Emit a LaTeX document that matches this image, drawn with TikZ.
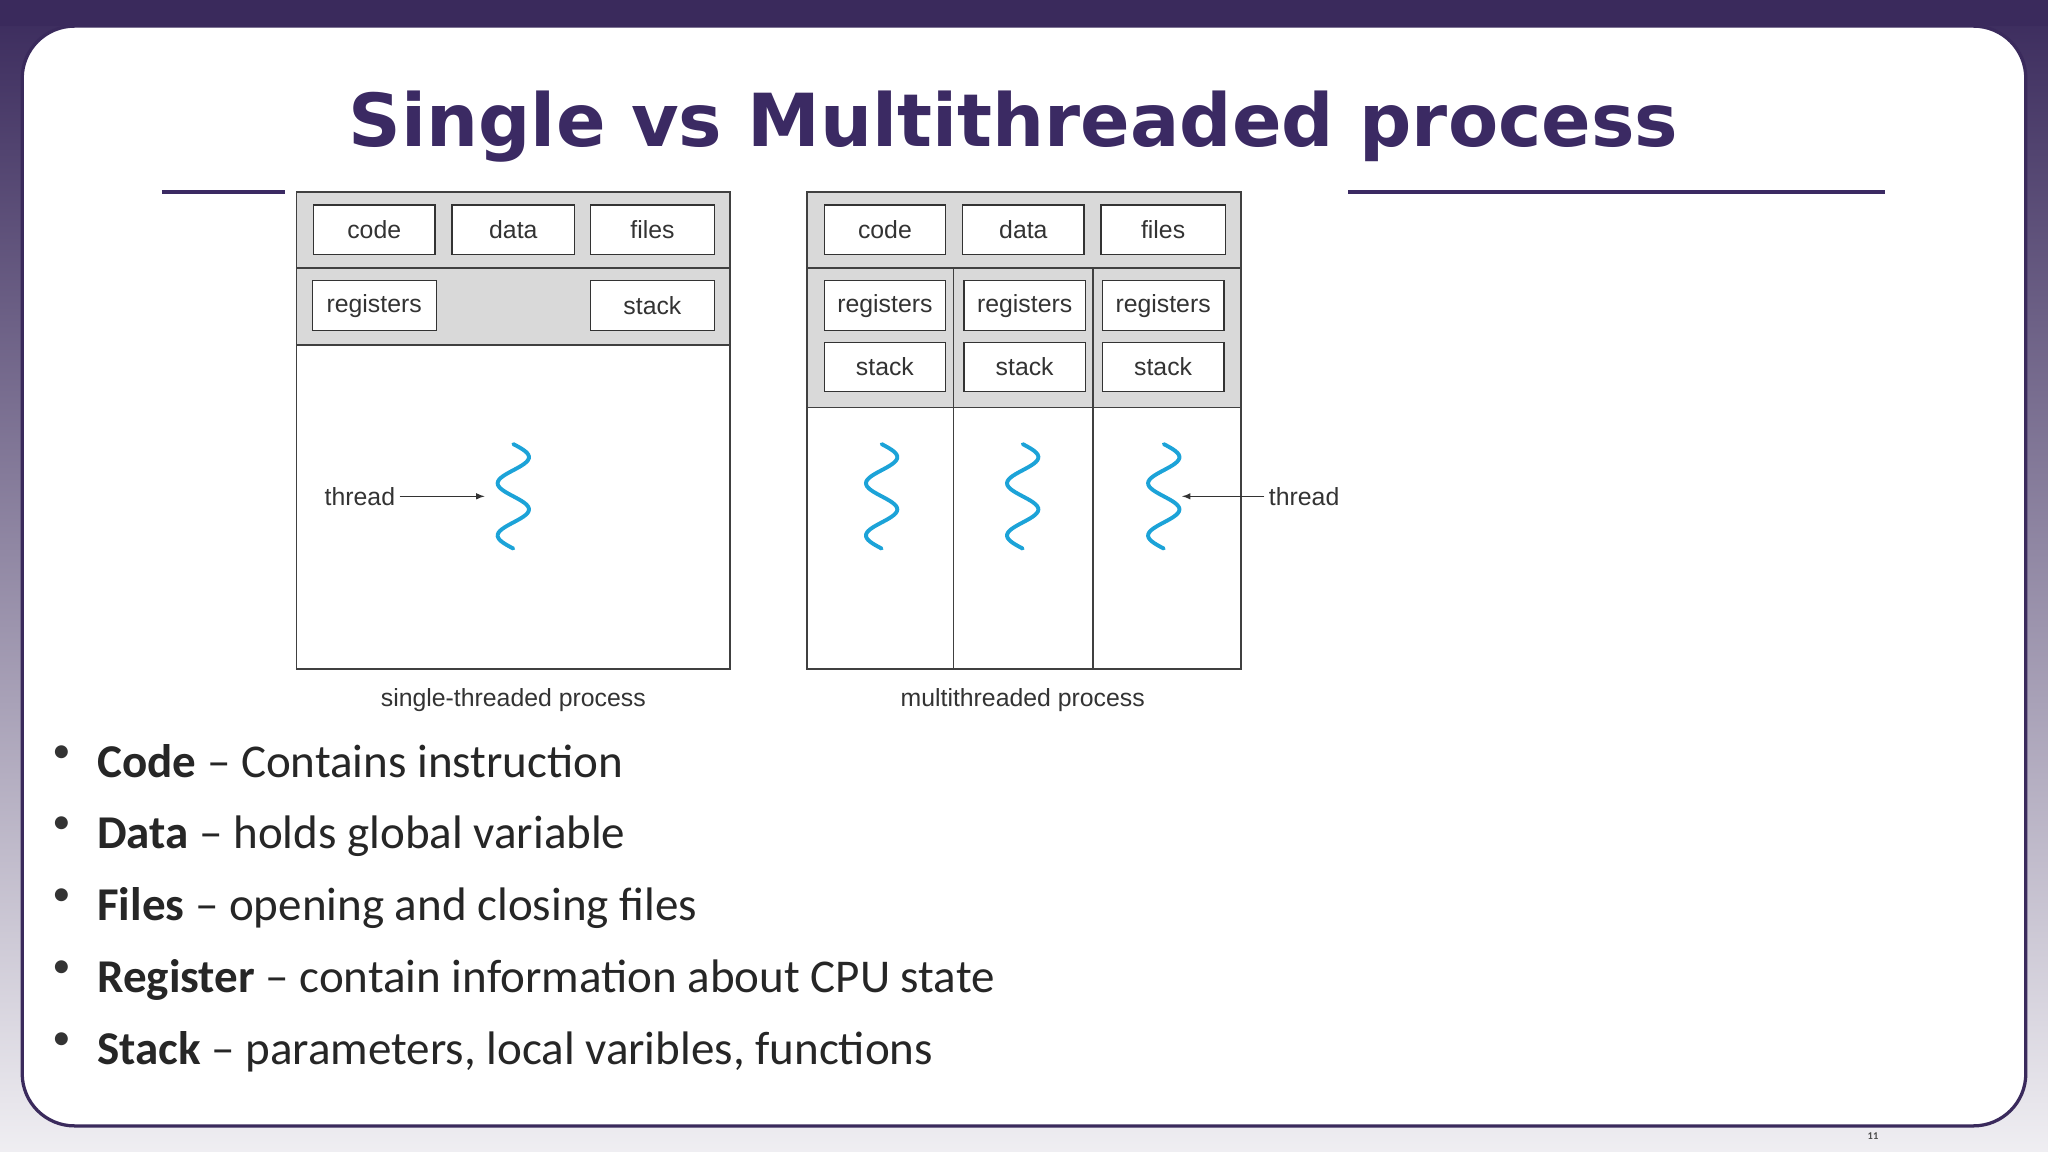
\documentclass[tikz,border=0pt]{standalone}
\usepackage{fontspec}
\setmainfont{Carlito}
\newfontfamily\ttl{DejaVu Sans}
\newfontfamily\dia{Liberation Sans}
\definecolor{ttlc}{HTML}{3B2A63}
\definecolor{frm}{HTML}{3A2A5C}
\definecolor{grayrow}{HTML}{D9D9D9}
\definecolor{wave}{HTML}{1CA3D8}
\begin{document}
\begin{tikzpicture}[x=1pt,y=-1pt,
  bx/.style={draw=black!80,fill=white,line width=1pt,inner sep=0pt,font=\dia\fontsize{19}{20}\selectfont,text=black!80},
  lbl/.style={font=\dia\fontsize{19}{20}\selectfont,text=black!80},
  bul/.style={anchor=base west,font=\fontsize{36}{40}\selectfont,text=black!85},
  pl/.style={draw=black!75,line width=1.2pt}]
\useasboundingbox (0,0) rectangle (1568,882);
\shade[top color=frm,bottom color=frm!8!white] (0,0) rectangle (1568,882);
\fill[frm] (0,0) rectangle (1568,20);
\draw[frm,line width=2.5pt,fill=white,rounded corners=40pt] (17,20) rectangle (1551,862);
\node[font=\fontsize{8}{8}\selectfont\bfseries,text=black!70] (num) at (1434,870) {11};
\node[font=\ttl\bfseries\fontsize{56}{60}\selectfont,text=ttlc] (title) at (776,97) {Single vs Multithreaded process};
\draw[ttlc,line width=2.5pt] (124,147) -- (1443,147);
\fill[white] (218,145) rectangle (1032,552);
% left process
\fill[grayrow] (227,147) rectangle (559,264);
\draw[pl] (227,147) rectangle (559,512) (227,205) -- (559,205) (227,264) -- (559,264);
\node[bx,minimum width=93pt,minimum height=38pt] (c1) at (286.5,176) {code};
\node[bx,minimum width=94pt,minimum height=38pt] (d1) at (393,176) {data};
\node[bx,minimum width=95pt,minimum height=38pt] (f1) at (499.5,176) {files};
\node[bx,minimum width=95pt,minimum height=38pt] (r1) at (286.5,234) {registers};
\node[bx,minimum width=95pt,minimum height=38pt] (s1) at (499.5,234) {stack};
\draw[wave,line width=3pt,line cap=round] plot[domain=0:80,samples=60,smooth] ({393+12*sin(\x*9)},{340+\x});
\coordinate (w1) at (371,380);
\node[lbl,anchor=east] (t1) at (306,380) {thread};
\draw[black!80,line width=1.2pt,-latex] (t1) -- (w1);
\node[lbl] (cap1) at (393,536) {single-threaded process};
% right process
\fill[grayrow] (618,147) rectangle (950,312);
\draw[pl] (618,147) rectangle (950,512) (618,205) -- (950,205) (618,312) -- (950,312) (730,205) -- (730,512) (837,205) -- (837,512);
\node[bx,minimum width=93pt,minimum height=38pt] (c2) at (677.5,176) {code};
\node[bx,minimum width=93pt,minimum height=38pt] (d2) at (783.5,176) {data};
\node[bx,minimum width=95pt,minimum height=38pt] (f2) at (890.5,176) {files};
\foreach \cx/\n in {677.5/a,784.5/b,890.5/c}{
  \node[bx,minimum width=93pt,minimum height=38pt] (r\n) at (\cx,234) {registers};
  \node[bx,minimum width=93pt,minimum height=38pt] (s\n) at (\cx,281) {stack};
}
\foreach \cx in {675,783,891}
  \draw[wave,line width=3pt,line cap=round] plot[domain=0:80,samples=60,smooth] ({\cx+12*sin(\x*9)},{340+\x});
\coordinate (w2) at (905,380);
\node[lbl,anchor=west] (t2) at (968,380) {thread};
\draw[black!80,line width=1.2pt,-latex] (t2) -- (w2);
\node[lbl] (cap2) at (783,536) {multithreaded process};
% bullets
\foreach \y/\b/\t [count=\i] in {595/Code/Contains instruction,650/Data/holds global variable,705/Files/opening and closing files,760/Register/contain information about CPU state,815/Stack/{parameters, local varibles, functions}}{
  \node[font=\fontsize{28}{30}\selectfont,text=black!80] (d\i) at (47,\y-18) {•};
  \node[bul] (b\i) at (71,\y) {\textbf{\b} – \t};
}
\end{tikzpicture}
\end{document}
